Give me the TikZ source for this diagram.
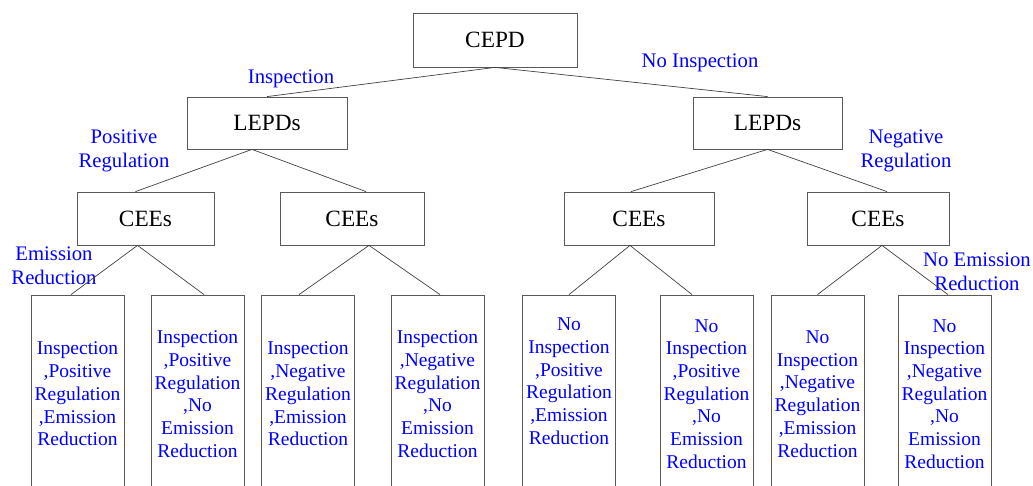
\documentclass[tikz,border=0pt]{standalone}
\usepackage{fontspec}
\setmainfont{Liberation Serif}
\usepackage{xcolor}
\usepackage{tikz}

\begin{document}
\begin{tikzpicture}[
  x=1pt, y=-1pt,
  box/.style={draw=black!65, line width=0.8pt, inner sep=0pt, minimum height=53pt,
    font=\fontsize{23.3}{28}\selectfont},
  leaf/.style={draw=black!65, line width=0.8pt, inner sep=0pt, minimum width=93pt,
    minimum height=198pt, align=center, text=blue, font=\fontsize{19.5}{22.7}\selectfont},
  choice/.style={inner sep=0pt, align=center, text=blue, font=\fontsize{20.7}{24}\selectfont},
  branch/.style={draw=black!75, line width=0.7pt},
]
  \useasboundingbox (0, 0) rectangle (1033, 486);

  % decision levels
  \node[box, minimum width=164pt, minimum height=54pt] (cepd) at (495, 40) {CEPD};
  \node[box, minimum width=160pt, minimum height=52pt] (lepdL) at (267, 123) {LEPDs};
  \node[box, minimum width=149pt, minimum height=52pt] (lepdR) at (767.5, 123) {LEPDs};
  \node[box, minimum width=137pt] (ceeA) at (145.5, 218.5) {CEEs};
  \node[box, minimum width=144pt] (ceeB) at (352, 218.5) {CEEs};
  \node[box, minimum width=150pt] (ceeC) at (639, 218.5) {CEEs};
  \node[box, minimum width=142pt] (ceeD) at (878, 218.5) {CEEs};

  % outcomes
  \node[leaf] (leaf1) at (77.5, 394) {Inspection\\,Positive\\Regulation\\,Emission\\Reduction};
  \node[leaf] (leaf2) at (197.5, 394) {Inspection\\,Positive\\Regulation\\,No\\Emission\\Reduction};
  \node[leaf] (leaf3) at (308, 394) {Inspection\\,Negative\\Regulation\\,Emission\\Reduction};
  \node[leaf] (leaf4) at (437.5, 394) {Inspection\\,Negative\\Regulation\\,No\\Emission\\Reduction};
  \node[leaf] (leaf5) at (569, 394) {No\\Inspection\\,Positive\\Regulation\\,Emission\\Reduction\\[3pt]\mbox{}};
  \node[leaf] (leaf6) at (706.5, 394) {No\\Inspection\\,Positive\\Regulation\\,No\\Emission\\Reduction};
  \node[leaf] (leaf7) at (817.5, 394) {No\\Inspection\\,Negative\\Regulation\\,Emission\\Reduction};
  \node[leaf] (leaf8) at (944.5, 394) {No\\Inspection\\,Negative\\Regulation\\,No\\Emission\\Reduction};

  % strategy labels
  \node[choice] (lbInsp) at (291, 79) {Inspection};
  \node[choice] (lbNoInsp) at (700, 63) {No Inspection};
  \node[choice] (lbPos) at (124, 151) {Positive\\Regulation};
  \node[choice] (lbNeg) at (906, 151) {Negative\\Regulation};
  \node[choice] (lbEmis) at (54, 266) {Emission\\Reduction};
  \node[choice] (lbNoEmis) at (977, 271.5) {No Emission\\Reduction};

  % branches
  \draw[branch] (cepd.south) -- (lepdL.north);
  \draw[branch] (cepd.south) -- (lepdR.north);
  \draw[branch] ([xshift=-15pt]lepdL.south) -- ([xshift=-10pt]ceeA.north);
  \draw[branch] ([xshift=-15pt]lepdL.south) -- ([xshift=14pt]ceeB.north);
  \draw[branch] (lepdR.south) -- ([xshift=-8pt]ceeC.north);
  \draw[branch] (lepdR.south) -- ([xshift=9pt]ceeD.north);
  \draw[branch] ([xshift=-8pt]ceeA.south) -- ([xshift=-6.5pt]leaf1.north);
  \draw[branch] ([xshift=-8pt]ceeA.south) -- ([xshift=6.5pt]leaf2.north);
  \draw[branch] ([xshift=17pt]ceeB.south) -- ([xshift=-9pt]leaf3.north);
  \draw[branch] ([xshift=17pt]ceeB.south) -- ([xshift=2.5pt]leaf4.north);
  \draw[branch] ([xshift=-9pt]ceeC.south) -- (leaf5.north);
  \draw[branch] ([xshift=-9pt]ceeC.south) -- ([xshift=-14.5pt]leaf6.north);
  \draw[branch] ([xshift=4pt]ceeD.south) -- (leaf7.north);
  \draw[branch] ([xshift=4pt]ceeD.south) -- ([xshift=3.5pt]leaf8.north);
\end{tikzpicture}
\end{document}
